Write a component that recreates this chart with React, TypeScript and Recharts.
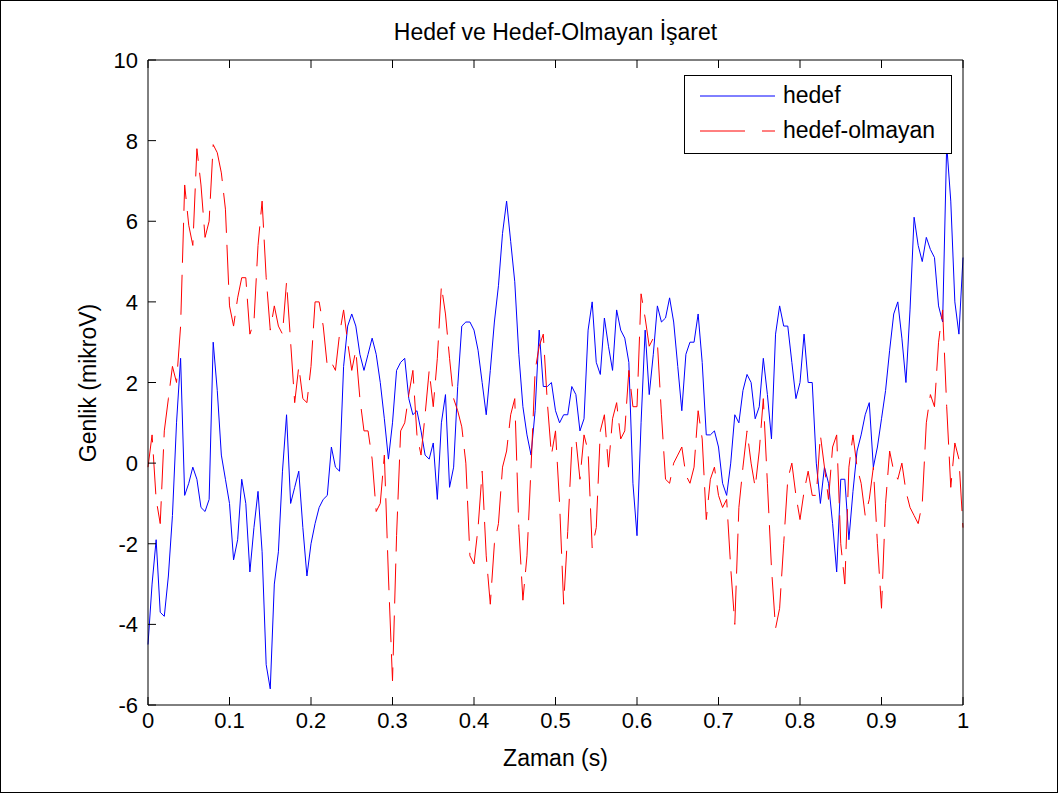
import React from "react";
import { LineChart, Line, XAxis, YAxis, Legend } from "recharts";

// sampling step of both signals (s)
const SAMPLE_STEP = 0.005;

// "hedef" (target) signal, mikroV
const hedef = [
  -4.5, -3.0, -1.9, -3.7, -3.8, -2.8, -1.3, 1.0, 2.6, -0.8, -0.5, -0.1, -0.4, -1.1, -1.2, -0.9, 3.0, 1.8, 0.2, -0.4, -1.0,
  -2.4, -1.9, -0.4, -1.0, -2.7, -1.6, -0.7, -2.2, -5.0, -5.6, -3.0, -2.2, -0.2, 1.2, -1.0, -0.6, -0.2, -1.6, -2.8, -2.0,
  -1.5, -1.1, -0.9, -0.8, 0.4, -0.1, -0.2, 2.4, 3.4, 3.7, 3.4, 2.7, 2.3, 2.7, 3.1, 2.7, 2.0, 1.1, 0.1, 1.0,
  2.3, 2.5, 2.6, 1.6, 1.2, 1.3, 0.8, 0.2, 0.1, 0.5, -0.9, 1.0, 1.7, -0.6, -0.1, 1.9, 3.4, 3.5, 3.5, 3.3,
  2.8, 2.0, 1.2, 2.3, 3.5, 4.4, 5.7, 6.5, 5.5, 4.5, 2.7, 1.4, 0.7, 0.2, 1.3, 3.3, 1.9, 1.9, 2.0, 1.3,
  1.0, 1.2, 1.2, 1.9, 1.7, 0.8, 1.1, 3.3, 4.0, 2.5, 2.2, 3.6, 2.9, 2.3, 3.8, 3.3, 3.1, 2.5, -0.5, -1.8,
  1.0, 3.3, 1.7, 2.7, 3.9, 3.5, 3.6, 4.1, 3.5, 2.4, 1.3, 2.7, 3.0, 3.0, 3.7, 2.5, 0.7, 0.7, 0.8, 0.4,
  -0.5, -0.8, 0.0, 1.2, 1.0, 1.8, 2.2, 2.0, 1.1, 1.4, 2.6, 1.7, 0.6, 3.2, 3.9, 3.4, 3.4, 2.5, 1.6, 2.0,
  3.2, 2.0, 2.0, 0.0, -1.0, -0.1, -0.5, -1.5, -2.7, -0.4, -0.4, -1.9, -0.7, 0.3, 0.7, 1.2, 1.5, -0.1, 0.4, 1.1,
  1.8, 2.8, 3.7, 4.0, 3.1, 2.0, 3.8, 6.1, 5.4, 5.0, 5.6, 5.3, 5.1, 3.9, 3.5, 7.9, 6.5, 4.0, 3.2, 5.1,
];

// "hedef-olmayan" (non-target) signal, mikroV
const hedefOlmayan = [
  -0.1, 0.7, -0.9, -1.5, 0.8, 1.6, 2.4, 2.0, 3.4, 6.9, 5.9, 5.4, 7.8, 6.9, 5.6, 6.0, 7.9, 7.7, 7.2, 6.3, 3.9,
  3.4, 4.1, 4.6, 4.6, 3.2, 3.5, 5.4, 6.5, 4.6, 3.3, 3.9, 3.4, 3.2, 4.5, 3.0, 1.5, 2.4, 1.6, 1.5, 2.4,
  4.0, 4.0, 3.4, 2.4, 2.5, 2.3, 3.2, 3.8, 3.0, 2.3, 2.8, 1.6, 0.8, 0.8, 0.1, -1.2, -1.0, 0.2, -2.8, -5.4,
  -1.8, 0.8, 1.0, 1.7, 2.3, 0.7, 0.2, 1.2, 2.3, 1.4, 2.6, 4.4, 3.7, 2.6, 1.6, 1.3, 0.9, 0.0, -2.3, -2.5,
  -1.6, -0.2, -2.3, -3.5, -2.0, -1.5, -0.1, 0.3, 1.2, 1.6, -1.6, -3.4, -2.3, -0.1, 2.3, 2.9, 3.2, 1.5, 0.2, 0.8,
  -1.0, -3.5, -1.7, 0.4, 0.6, -0.4, 0.7, 0.3, -2.1, -1.6, 0.8, 1.2, -0.1, 1.1, 1.5, 0.6, 0.8, 2.3, 1.4, 1.4,
  4.2, 3.6, 2.9, 3.1, 3.0, 1.2, -0.4, -0.5, 0.0, 0.2, 0.4, -0.3, -0.5, -0.1, 1.3, 0.6, -1.4, -0.4, -0.1, -0.8,
  -1.1, -0.9, -2.6, -4.0, -1.1, -0.1, 0.8, 0.0, -0.6, 0.3, 1.6, -0.5, -2.6, -4.1, -3.6, -2.0, -0.4, 0.0, -0.8, -1.4,
  -0.7, -0.2, -0.8, -0.8, 0.7, -0.1, -0.9, 0.4, 0.7, -2.0, -3.0, -0.1, 0.7, -0.1, -0.5, -1.3, -0.9, -0.1, -2.0, -3.6,
  -1.0, 0.3, -0.2, -0.4, 0.0, -0.7, -1.1, -1.3, -1.5, -1.0, 1.0, 1.7, 1.4, 3.0, 3.8, 1.4, -0.6, 0.5, 0.1, -1.6,
];

const xTicks = [0, 0.1, 0.2, 0.3, 0.4, 0.5, 0.6, 0.7, 0.8, 0.9, 1];
const yTicks = [-6, -4, -2, 0, 2, 4, 6, 8, 10];

const data = hedef.map((v, i) => ({
  t: Math.round(i * SAMPLE_STEP * 1000) / 1000,
  hedef: v,
  hedefOlmayan: hedefOlmayan[i],
}));

const FONT = '"Liberation Sans", Arial, Helvetica, sans-serif';
const TICK_LEN = 8;

// matlab style: ticks point into the plot box
const BottomTick = (props: any) => {
  const { x, y, payload } = props;
  return (
    <g>
      <line x1={x} y1={y} x2={x} y2={y - TICK_LEN} stroke="#000" />
      <text x={x} y={y + 23} textAnchor="middle" fontSize={22} fontFamily={FONT} fill="#000">
        {String(payload.value)}
      </text>
    </g>
  );
};

const TopTick = (props: any) => {
  const { x, y } = props;
  return <line x1={x} y1={y} x2={x} y2={y + TICK_LEN} stroke="#000" />;
};

const LeftTick = (props: any) => {
  const { x, y, payload } = props;
  return (
    <g>
      <line x1={x} y1={y} x2={x + TICK_LEN} y2={y} stroke="#000" />
      <text x={x - 10} y={y + 8} textAnchor="end" fontSize={22} fontFamily={FONT} fill="#000">
        {String(payload.value)}
      </text>
    </g>
  );
};

const RightTick = (props: any) => {
  const { x, y } = props;
  return <line x1={x} y1={y} x2={x - TICK_LEN} y2={y} stroke="#000" />;
};

const LegendBox = (props: any) => {
  const items = props.payload || [];
  return (
    <div
      style={{
        position: "relative",
        width: 268,
        height: 79,
        boxSizing: "border-box",
        border: "1px solid #000",
        background: "#fff",
        fontFamily: FONT,
        fontSize: 23,
        color: "#000",
      }}
    >
      {items.map((it: any, i: number) => (
        <div key={it.value} style={{ position: "absolute", left: 0, top: 8 + i * 35, height: 26, width: 266 }}>
          <svg width={80} height={26} style={{ position: "absolute", left: 15, top: 0 }}>
            <line
              x1={0}
              y1={12}
              x2={75}
              y2={12}
              stroke={it.color}
              strokeWidth={1}
              strokeDasharray={i === 1 ? "45 17" : undefined}
            />
          </svg>
          <span style={{ position: "absolute", left: 98, top: -2, lineHeight: "26px", whiteSpace: "nowrap" }}>
            {it.value}
          </span>
        </div>
      ))}
    </div>
  );
};

export default function App() {
  return (
    <div
      style={{
        position: "absolute",
        left: 0,
        top: 0,
        width: 1059,
        height: 794,
        background: "#fff",
        fontFamily: FONT,
      }}
    >
      <div
        style={{
          position: "absolute",
          left: 0,
          top: 0,
          width: 1058,
          height: 793,
          boxSizing: "border-box",
          border: "1px solid #000",
        }}
      />
      <div style={{ position: "absolute", left: 0, top: 0 }}>
        <LineChart width={1059} height={794} data={data} margin={{ top: 50, right: 86, bottom: 59, left: 88 }}>
          <XAxis
            dataKey="t"
            type="number"
            domain={[0, 1]}
            ticks={xTicks}
            interval={0}
            height={30}
            tickSize={0}
            tickMargin={0}
            tickLine={false}
            axisLine={{ stroke: "#000" }}
            tick={BottomTick}
          />
          <XAxis
            xAxisId="top"
            orientation="top"
            dataKey="t"
            type="number"
            domain={[0, 1]}
            ticks={xTicks}
            interval={0}
            height={10}
            tickSize={0}
            tickMargin={0}
            tickLine={false}
            axisLine={{ stroke: "#000" }}
            tick={TopTick}
          />
          <YAxis
            type="number"
            domain={[-6, 10]}
            ticks={yTicks}
            interval={0}
            width={60}
            tickSize={0}
            tickMargin={0}
            tickLine={false}
            axisLine={{ stroke: "#000" }}
            tick={LeftTick}
          />
          <YAxis
            yAxisId="right"
            orientation="right"
            type="number"
            domain={[-6, 10]}
            ticks={yTicks}
            interval={0}
            width={10}
            tickSize={0}
            tickMargin={0}
            tickLine={false}
            axisLine={{ stroke: "#000" }}
            tick={RightTick}
          />
          <Legend
            layout="vertical"
            verticalAlign="middle"
            align="center"
            wrapperStyle={{ position: "absolute", left: 684, top: 75, width: 268, height: 79 }}
            content={LegendBox}
          />
          <Line
            type="linear"
            dataKey="hedef"
            name="hedef"
            stroke="#0000ff"
            strokeWidth={1}
            dot={false}
            isAnimationActive={false}
          />
          <Line
            type="linear"
            dataKey="hedefOlmayan"
            name="hedef-olmayan"
            stroke="#ff0000"
            strokeWidth={1}
            strokeDasharray="40 12"
            dot={false}
            isAnimationActive={false}
          />
        </LineChart>
      </div>
      <div
        style={{
          position: "absolute",
          left: 148,
          width: 815,
          top: 18,
          textAlign: "center",
          fontSize: 23,
          lineHeight: "28px",
        }}
      >
        Hedef ve Hedef-Olmayan İşaret
      </div>
      <div
        style={{
          position: "absolute",
          left: 148,
          width: 815,
          top: 744,
          textAlign: "center",
          fontSize: 23,
          lineHeight: "28px",
        }}
      >
        Zaman (s)
      </div>
      <div
        style={{
          position: "absolute",
          left: 88 - 150,
          top: 383 - 14,
          width: 300,
          textAlign: "center",
          fontSize: 23,
          lineHeight: "28px",
          transform: "rotate(-90deg)",
          transformOrigin: "150px 14px",
        }}
      >
        Genlik (mikroV)
      </div>
    </div>
  );
}
